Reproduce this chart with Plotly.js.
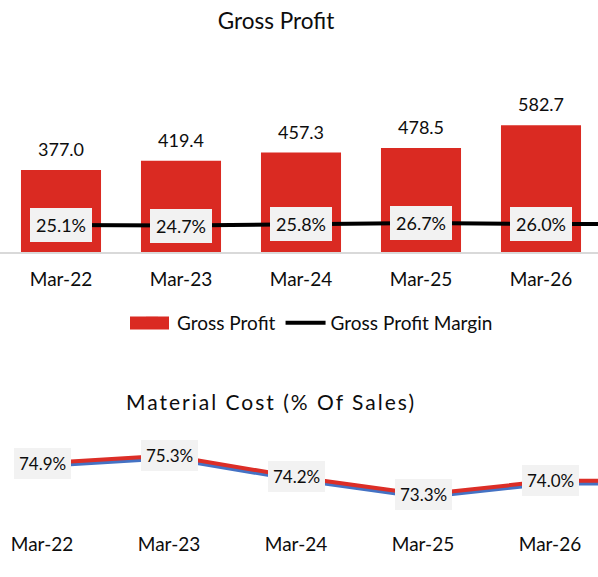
<!DOCTYPE html>
<html>
<head>
<meta charset="utf-8">
<script src="https://cdn.plot.ly/plotly-3.0.1.min.js"></script>
<style>
  html, body { margin: 0; padding: 0; background: #fff; }
  #chart { width: 598px; height: 577px; }
  .annotation[data-index="0"] .annotation-text { letter-spacing: 2px; }
</style>
</head>
<body>
<div id="chart"></div>
<script>
// ---- data ----
const categories = ['Mar-22', 'Mar-23', 'Mar-24', 'Mar-25', 'Mar-26'];
const grossProfit = [377.0, 419.4, 457.3, 478.5, 582.7];
const grossMargin = [25.1, 24.7, 25.8, 26.7, 26.0];
const materialCost = [74.9, 75.3, 74.2, 73.3, 74.0];
const materialCostShadow = [74.75, 75.15, 74.05, 73.15, 73.85];
// the lines run on past the last category to the chart edge
const nextCategory = 'Mar-27';
const grossMarginNext = 26.0;
const materialCostNext = 74.0;
const materialCostShadowNext = 73.85;

const FONT = 'Lato, "Open Sans", sans-serif';
const TXT = '#0d0d0d';
const RED = '#DA2A22';

const catsExt = categories.concat([nextCategory]);

const traces = [
  {
    type: 'bar', name: 'Gross Profit',
    x: categories, y: grossProfit,
    marker: { color: RED }, width: 0.667,
    xaxis: 'x', yaxis: 'y', hoverinfo: 'skip'
  },
  {
    type: 'scatter', mode: 'lines', name: 'Gross Profit Margin',
    x: catsExt, y: grossMargin.concat([grossMarginNext]),
    line: { color: '#000', width: 4 },
    xaxis: 'x', yaxis: 'y2', hoverinfo: 'skip'
  },
  {
    type: 'scatter', mode: 'lines', name: 'Material Cost (shadow)', showlegend: false,
    x: catsExt, y: materialCostShadow.concat([materialCostShadowNext]),
    line: { color: '#4472C4', width: 3.5 },
    xaxis: 'x3', yaxis: 'y3', hoverinfo: 'skip'
  },
  {
    type: 'scatter', mode: 'lines', name: 'Material Cost', showlegend: false,
    x: catsExt, y: materialCost.concat([materialCostNext]),
    line: { color: '#DC2E27', width: 4 },
    xaxis: 'x3', yaxis: 'y3', hoverinfo: 'skip'
  }
];

const annotations = [
  {
    text: 'Material Cost (% Of Sales)', xref: 'paper', yref: 'paper',
    x: 271 / 598, y: 1 - 401 / 577, xanchor: 'center', yanchor: 'middle',
    showarrow: false, font: { family: FONT, size: 21, color: TXT }
  }
];

categories.forEach((c, i) => {
  annotations.push({
    text: grossProfit[i].toFixed(1), x: c, y: grossProfit[i], xref: 'x', yref: 'y',
    xanchor: 'center', yanchor: 'bottom', yshift: 8, showarrow: false,
    font: { family: FONT, size: 18, color: TXT }
  });
  annotations.push({
    text: grossMargin[i].toFixed(1) + '%', x: c, y: grossMargin[i], xref: 'x', yref: 'y2',
    xanchor: 'center', yanchor: 'middle', showarrow: false,
    bgcolor: '#F2F2F2', borderpad: 6, borderwidth: 0,
    font: { family: FONT, size: 18, color: TXT }
  });
  annotations.push({
    text: materialCost[i].toFixed(1) + '%', x: c, y: materialCost[i], xref: 'x3', yref: 'y3',
    xanchor: 'center', yanchor: 'middle', showarrow: false,
    bgcolor: '#F2F2F2', borderpad: 5, borderwidth: 0,
    font: { family: FONT, size: 17, color: TXT }
  });
});

const px = p => 1 - p / 577;

const layout = {
  width: 598, height: 577,
  margin: { l: 0, r: 0, t: 0, b: 0 },
  paper_bgcolor: '#fff', plot_bgcolor: '#fff',
  font: { family: FONT, color: TXT },
  title: {
    text: 'Gross Profit', x: 276 / 598, xanchor: 'center',
    y: px(21), yanchor: 'middle', xref: 'paper', yref: 'container',
    font: { family: FONT, size: 22.5, color: TXT }
  },
  showlegend: true,
  legend: {
    orientation: 'h', x: 0.5226, xanchor: 'center', y: px(323), yanchor: 'middle',
    font: { family: FONT, size: 19, color: TXT }, itemwidth: 40,
    bgcolor: 'rgba(0,0,0,0)'
  },
  // widen the legend's bar swatch to the reference's rectangle
  shapes: [
    {
      type: 'rect', xref: 'paper', yref: 'paper', layer: 'above',
      x0: 130 / 598, x1: 169 / 598, y0: px(329.5), y1: px(316.5),
      fillcolor: RED, line: { width: 0 }
    }
  ],
  xaxis: {
    type: 'category', domain: [0, 1], anchor: 'y',
    range: [-0.5083, 4.475], fixedrange: true,
    showline: true, linecolor: '#D9D9D9', linewidth: 1.5,
    showgrid: false, zeroline: false, ticks: '',
    ticklabelstandoff: 10,
    tickfont: { family: FONT, size: 19, color: TXT }
  },
  yaxis: {
    domain: [px(252), px(40)], range: [0, 975],
    visible: false, showgrid: false, zeroline: false
  },
  yaxis2: {
    overlaying: 'y', range: [3.52, 173.1],
    visible: false, showgrid: false, zeroline: false
  },
  xaxis3: {
    type: 'category', domain: [0, 1], anchor: 'y3',
    range: [-0.331, 4.378],
    showline: false, showgrid: false, zeroline: false, ticks: '',
    ticklabelstandoff: 1,
    tickfont: { family: FONT, size: 19, color: TXT }
  },
  yaxis3: {
    domain: [px(530), px(420)], range: [71.479, 77.12],
    visible: false, showgrid: false, zeroline: false
  },
  annotations: annotations,
  barmode: 'group'
};

Plotly.newPlot('chart', traces, layout, { displayModeBar: false, staticPlot: true });
</script>
</body>
</html>
